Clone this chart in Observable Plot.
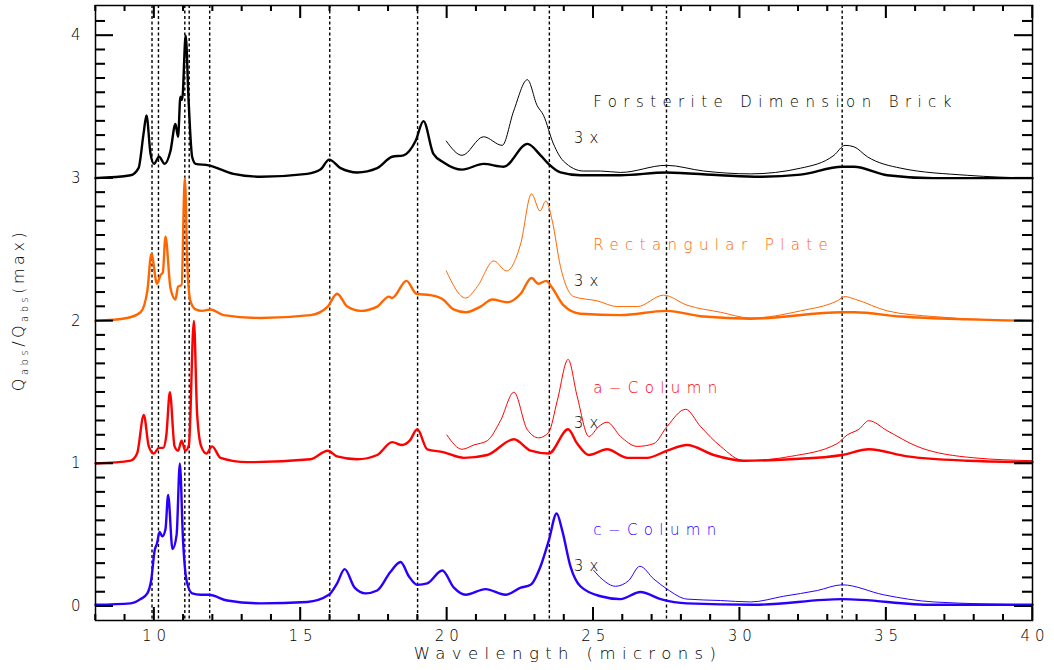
<!DOCTYPE html>
<html>
<head>
<meta charset="utf-8">
<script src="https://cdn.jsdelivr.net/npm/d3@7"></script>
<script src="https://cdn.jsdelivr.net/npm/@observablehq/plot@0.6"></script>
<style>
  html, body { margin: 0; padding: 0; background: #fff; }
  svg text { font-family: "DejaVu Sans", sans-serif; font-weight: 200; }
  g[aria-label="text"] text { letter-spacing: 6.4px; }
  g[aria-label="x-axis tick label"] text { letter-spacing: 5px; }
  g[aria-label="y-axis tick label"] text { letter-spacing: 0; }
</style>
</head>
<body>
<div id="chart"></div>
<script>
// ---------------- data ----------------
// Q_abs/Q_abs(max), each series is stacked on its own baseline offset
const seriesNames = ["Forsterite Dimension Brick", "Rectangular Plate", "a\u2212Column", "c\u2212Column"];
const seriesOffsets = [3, 2, 1, 0];

// Forsterite dimension brick (thick, normalized)
const brickX = [8, 9.2, 9.47, 9.64, 9.74, 9.88, 10.0, 10.17, 10.36, 10.56, 10.73, 10.82, 10.9, 10.96, 11.08, 11.18, 11.3, 11.42, 11.86, 12.71, 13.64, 15.23, 15.68, 15.98, 16.37, 16.94, 17.62, 18.13, 18.52, 18.93, 19.2, 19.54, 19.89, 20.52, 21.25, 21.94, 22.75, 23.2, 23.47, 23.88, 24.56, 25.93, 27.49, 29.35, 30.7, 32.08, 33.5, 33.9, 35.04, 36.6, 40];
const brickY = [0.0, 0.02, 0.07, 0.31, 0.44, 0.17, 0.10, 0.15, 0.10, 0.19, 0.38, 0.29, 0.57, 0.55, 1.0, 0.54, 0.15, 0.10, 0.09, 0.03, 0.01, 0.03, 0.06, 0.13, 0.07, 0.04, 0.07, 0.15, 0.16, 0.26, 0.40, 0.17, 0.11, 0.06, 0.10, 0.08, 0.24, 0.16, 0.10, 0.04, 0.02, 0.02, 0.04, 0.02, 0.01, 0.025, 0.08, 0.08, 0.02, 0.0, 0.0];
// brick, 3x magnified (thin)
const brick3xX = [19.98, 20.52, 21.25, 21.89, 22.28, 22.75, 23.08, 23.3, 23.64, 23.98, 24.67, 25.25, 25.93, 27.49, 28.77, 30.37, 32.08, 33.22, 33.6, 33.9, 34.36, 35.5, 37.77, 40];
const brick3xY = [0.26, 0.16, 0.29, 0.23, 0.47, 0.69, 0.51, 0.44, 0.24, 0.12, 0.05, 0.05, 0.04, 0.09, 0.05, 0.03, 0.07, 0.16, 0.23, 0.22, 0.15, 0.07, 0.02, 0.0];

// Rectangular plate
const plateX = [8, 9.08, 9.54, 9.77, 9.91, 10.1, 10.22, 10.3, 10.39, 10.56, 10.73, 10.82, 10.94, 11.05, 11.14, 11.24, 11.42, 11.64, 11.93, 12.37, 13.64, 15.34, 15.93, 16.25, 16.6, 17.05, 17.62, 18.02, 18.13, 18.62, 18.96, 19.44, 19.87, 20.23, 20.64, 21.15, 21.55, 22.06, 22.52, 22.89, 23.13, 23.39, 23.6, 23.98, 24.56, 25.93, 27.49, 28.77, 30.37, 33.5, 33.9, 35.5, 37.77, 40];
const plateY = [0.0, 0.02, 0.06, 0.21, 0.47, 0.26, 0.32, 0.34, 0.59, 0.23, 0.15, 0.24, 0.25, 1.0, 0.38, 0.14, 0.08, 0.07, 0.08, 0.04, 0.02, 0.04, 0.10, 0.19, 0.10, 0.07, 0.10, 0.17, 0.16, 0.28, 0.19, 0.18, 0.15, 0.08, 0.06, 0.10, 0.15, 0.13, 0.19, 0.30, 0.26, 0.28, 0.23, 0.11, 0.05, 0.04, 0.07, 0.03, 0.015, 0.06, 0.06, 0.03, 0.01, 0.0];
const plate3xX = [19.98, 20.64, 21.04, 21.6, 22.04, 22.52, 22.89, 23.18, 23.38, 23.6, 23.88, 24.33, 25.13, 25.82, 26.5, 27.4, 28.2, 29.35, 30.37, 32.08, 33.33, 33.6, 33.96, 35.04, 36.63, 40];
const plate3xY = [0.35, 0.16, 0.24, 0.42, 0.35, 0.54, 0.89, 0.77, 0.84, 0.70, 0.38, 0.17, 0.14, 0.10, 0.10, 0.18, 0.11, 0.06, 0.02, 0.07, 0.14, 0.17, 0.15, 0.07, 0.03, 0.0];

// a-Column
const aColX = [8, 9.2, 9.42, 9.65, 9.82, 9.99, 10.17, 10.31, 10.42, 10.54, 10.7, 10.82, 10.94, 11.07, 11.19, 11.36, 11.47, 11.61, 11.79, 11.98, 12.27, 13.18, 15.34, 15.93, 16.25, 16.94, 17.62, 18.13, 18.47, 18.73, 18.99, 19.33, 19.87, 20.58, 21.38, 22.29, 22.86, 23.48, 24.14, 24.45, 24.85, 25.47, 26.16, 26.84, 27.52, 28.2, 29.11, 30.14, 31.74, 33.5, 34.41, 35.72, 37.77, 40];
const aColY = [0.0, 0.02, 0.07, 0.34, 0.12, 0.07, 0.11, 0.11, 0.20, 0.50, 0.12, 0.09, 0.16, 0.09, 0.13, 1.0, 0.35, 0.12, 0.07, 0.12, 0.04, 0.01, 0.03, 0.09, 0.05, 0.03, 0.06, 0.15, 0.13, 0.16, 0.24, 0.10, 0.08, 0.04, 0.06, 0.17, 0.09, 0.07, 0.24, 0.14, 0.06, 0.10, 0.04, 0.04, 0.09, 0.13, 0.06, 0.02, 0.03, 0.06, 0.10, 0.05, 0.02, 0.01];
const aCol3xX = [20.0, 20.52, 20.92, 21.38, 21.83, 22.29, 22.74, 23.14, 23.48, 23.77, 24.14, 24.45, 24.85, 25.19, 25.47, 25.93, 26.5, 27.07, 27.52, 28.15, 28.66, 29.35, 30.14, 31.74, 33.33, 33.67, 34.07, 34.41, 35.04, 36.06, 38.0, 40];
const aCol3xY = [0.20, 0.10, 0.13, 0.16, 0.30, 0.50, 0.24, 0.18, 0.22, 0.44, 0.73, 0.47, 0.19, 0.26, 0.29, 0.19, 0.12, 0.14, 0.26, 0.38, 0.26, 0.12, 0.02, 0.05, 0.14, 0.20, 0.24, 0.30, 0.23, 0.12, 0.04, 0.02];

// c-Column
const cColX = [8, 9.2, 9.54, 9.77, 9.9, 10.02, 10.1, 10.19, 10.28, 10.39, 10.48, 10.63, 10.77, 10.88, 10.99, 11.11, 11.3, 11.59, 11.87, 12.5, 13.64, 15.23, 15.97, 16.25, 16.51, 16.85, 17.22, 17.62, 18.07, 18.42, 18.7, 18.99, 19.33, 19.84, 20.24, 20.64, 21.32, 22.0, 22.52, 22.86, 23.2, 23.48, 23.75, 23.94, 24.22, 24.56, 25.25, 25.93, 26.61, 27.3, 28.2, 30.48, 33.5, 36.6, 40];
const cColY = [0.01, 0.02, 0.05, 0.09, 0.18, 0.39, 0.44, 0.52, 0.49, 0.54, 0.78, 0.40, 0.50, 1.0, 0.46, 0.18, 0.09, 0.08, 0.08, 0.04, 0.02, 0.03, 0.08, 0.16, 0.26, 0.13, 0.09, 0.11, 0.24, 0.31, 0.21, 0.15, 0.16, 0.25, 0.13, 0.08, 0.12, 0.08, 0.13, 0.15, 0.28, 0.46, 0.65, 0.53, 0.28, 0.14, 0.07, 0.05, 0.10, 0.05, 0.02, 0.01, 0.05, 0.01, 0.01];
const cCol3xX = [25.02, 25.3, 25.76, 26.21, 26.59, 27.07, 27.52, 28.2, 29.35, 30.37, 31.5, 32.65, 33.5, 34.92, 36.63, 40];
const cCol3xY = [0.25, 0.19, 0.14, 0.18, 0.28, 0.19, 0.12, 0.05, 0.04, 0.03, 0.07, 0.11, 0.15, 0.08, 0.03, 0.01];

// dashed reference wavelengths (microns)
const featureLines = [9.93, 10.15, 11.05, 11.2, 11.9, 16.0, 19.0, 23.5, 27.5, 33.5];
const magnifyLabel = "3x";

// axis ticks
const xMajorTicks = [10, 15, 20, 25, 30, 35, 40];
const xMinorTicks = [8, 9, 11, 12, 13, 14, 16, 17, 18, 19, 21, 22, 23, 24, 26, 27, 28, 29, 31, 32, 33, 34, 36, 37, 38, 39];
const yMajorTicks = [0, 1, 2, 3, 4];
const yMinorTicks = [0.1, 0.2, 0.3, 0.4, 0.5, 0.6, 0.7, 0.8, 0.9, 1.1, 1.2, 1.3, 1.4, 1.5, 1.6, 1.7, 1.8, 1.9,
  2.1, 2.2, 2.3, 2.4, 2.5, 2.6, 2.7, 2.8, 2.9, 3.1, 3.2, 3.3, 3.4, 3.5, 3.6, 3.7, 3.8, 3.9, 4.1];

// ---------------- layout ----------------
const W = 1054, H = 670, mL = 95, mR = 22, mT = 5, mB = 50;
const xDom = [8, 40], yDom = [-0.1, 4.21];
const frameW = W - mL - mR, frameH = H - mT - mB;
const pxX = frameW / (xDom[1] - xDom[0]);   // pixels per micron
const pxY = frameH / (yDom[1] - yDom[0]);   // pixels per unit
const tickStyle = {stroke: "#000", strokeWidth: 1.5};
const len = (px, per) => px / per;

// ---------------- build tables ----------------
const seriesColors = ["#000000", "#ff6600", "#ff0000", "#2800ff"];
const thickX = [brickX, plateX, aColX, cColX];
const thickY = [brickY, plateY, aColY, cColY];
const thinX = [brick3xX, plate3xX, aCol3xX, cCol3xX];
const thinY = [brick3xY, plate3xY, aCol3xY, cCol3xY];

const series = seriesNames.map((name, i) => ({
  name, offset: seriesOffsets[i], color: seriesColors[i],
  thick: thickX[i].map((x, j) => ({x, y: thickY[i][j] + seriesOffsets[i]})),
  thin: thinX[i].map((x, j) => ({x, y: thinY[i][j] + seriesOffsets[i]}))
}));

const lineMarks = [];
for (const s of series) {
  lineMarks.push(Plot.line(s.thin, {x: "x", y: "y", stroke: s.color, strokeWidth: 1, curve: "monotone-x"}));
  lineMarks.push(Plot.line(s.thick, {x: "x", y: "y", stroke: s.color, strokeWidth: 2.4, curve: "monotone-x"}));
}

// inward ticks, drawn as rules in data units
const xTickRules = (ticks, px) => [
  Plot.ruleX(ticks, {x: d => d, y1: yDom[0], y2: yDom[0] + len(px, pxY), ...tickStyle}),
  Plot.ruleX(ticks, {x: d => d, y1: yDom[1] - len(px, pxY), y2: yDom[1], ...tickStyle})
];
const yTickRules = (ticks, px) => [
  Plot.ruleY(ticks, {y: d => d, x1: xDom[0], x2: xDom[0] + len(px, pxX), ...tickStyle}),
  Plot.ruleY(ticks, {y: d => d, x1: xDom[1] - len(px, pxX), x2: xDom[1], ...tickStyle})
];

const chart = Plot.plot({
  width: W,
  height: H,
  marginLeft: mL,
  marginRight: mR,
  marginTop: mT,
  marginBottom: mB,
  style: {fontFamily: "DejaVu Sans, sans-serif", background: "#fff"},
  x: {domain: xDom, label: null},
  y: {domain: yDom, label: null},
  marks: [
    Plot.ruleX(featureLines, {x: d => d, stroke: "#000", strokeWidth: 1.4, strokeDasharray: "3,2.5"}),
    ...lineMarks,
    ...xTickRules(xMinorTicks, 6),
    ...xTickRules(xMajorTicks, 13),
    ...yTickRules(yMinorTicks, 10),
    ...yTickRules(yMajorTicks, 18),
    // tick labels
    Plot.axisX({anchor: "bottom", ticks: xMajorTicks, tickSize: 0, tickPadding: 10, fontSize: 15, label: null, dx: 2.5}),
    Plot.axisY({anchor: "left", ticks: yMajorTicks, tickSize: 0, tickPadding: 15, fontSize: 15, tickFormat: "d", label: null}),
    Plot.frame({stroke: "#000", strokeWidth: 1.5}),
    // series labels
    Plot.text(series, {x: () => 25, y: d => d.offset + 0.53, text: d => d.name, fill: d => d.color,
      textAnchor: "start", fontSize: 15}),
    Plot.text(series, {x: () => 24.33, y: d => d.offset + 0.28, text: () => magnifyLabel, fill: "#000",
      textAnchor: "start", fontSize: 15}),
    // x-axis title
    Plot.text(["Wavelength (microns)"], {frameAnchor: "bottom", text: d => d, dy: 38, dx: 4, fontSize: 16.5, fill: "#000"})
  ]
});

document.getElementById("chart").appendChild(chart);

const svg = d3.select(chart);

// fallback: the same inward ticks placed through Plot's own scales
const sx = chart.scale("x"), sy = chart.scale("y");
const tg = svg.append("g").attr("stroke", "#000").attr("stroke-width", 1.5).attr("fill", "none");
const addX = (ticks, px) => ticks.forEach(t => {
  const p = sx.apply(t);
  tg.append("line").attr("x1", p).attr("x2", p).attr("y1", H - mB).attr("y2", H - mB - px);
  tg.append("line").attr("x1", p).attr("x2", p).attr("y1", mT).attr("y2", mT + px);
});
const addY = (ticks, px) => ticks.forEach(t => {
  const p = sy.apply(t);
  tg.append("line").attr("y1", p).attr("y2", p).attr("x1", mL).attr("x2", mL + px);
  tg.append("line").attr("y1", p).attr("y2", p).attr("x1", W - mR).attr("x2", W - mR - px);
});
addX(xMinorTicks, 6); addX(xMajorTicks, 13);
addY(yMinorTicks, 10); addY(yMajorTicks, 18);

// y-axis title with subscripts
const yt = svg.append("text")
  .attr("transform", "translate(24,310) rotate(-90)")
  .attr("text-anchor", "middle")
  .attr("font-size", 16)
  .attr("fill", "#000")
  .style("letter-spacing", "3.5px");
yt.append("tspan").text("Q");
yt.append("tspan").attr("dy", 4).attr("font-size", 10).text("abs");
yt.append("tspan").attr("dy", -4).text("/Q");
yt.append("tspan").attr("dy", 4).attr("font-size", 10).text("abs");
yt.append("tspan").attr("dy", -4).text("(max)");
</script>
</body>
</html>
